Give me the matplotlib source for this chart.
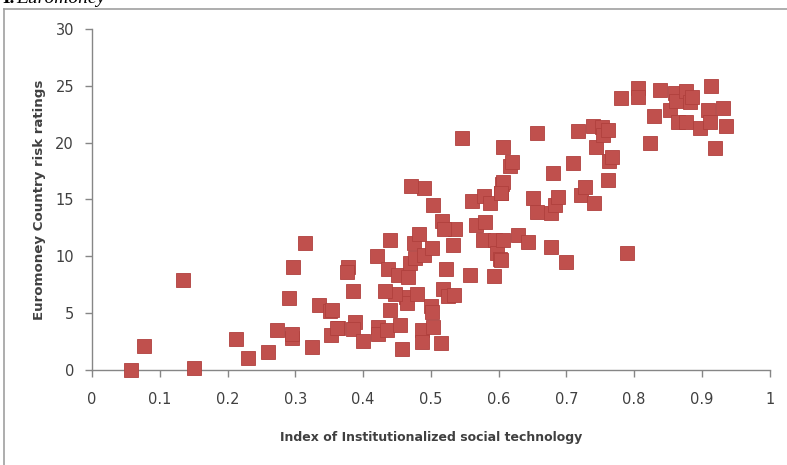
import matplotlib
matplotlib.use("Agg")
import matplotlib.pyplot as plt
from matplotlib.lines import Line2D

# Index of institutionalized social technology (x) vs Euromoney rating (y)
ist_index = [
    0.057, 0.077, 0.134, 0.151, 0.212, 0.230, 0.259, 0.273, 0.291, 0.297,
    0.295, 0.295, 0.314, 0.324, 0.335, 0.351, 0.353, 0.363, 0.354, 0.361,
    0.378, 0.376, 0.385, 0.388, 0.385, 0.400, 0.420, 0.422, 0.422, 0.435,
    0.437, 0.440, 0.440, 0.452, 0.454, 0.457, 0.466, 0.464, 0.465, 0.447,
    0.432, 0.469, 0.475, 0.477, 0.479, 0.483, 0.487, 0.487, 0.490, 0.490,
    0.470, 0.500, 0.501, 0.501, 0.503, 0.503, 0.515, 0.516, 0.518, 0.522,
    0.525, 0.534, 0.533, 0.536, 0.520, 0.546, 0.558, 0.561, 0.567, 0.577,
    0.578, 0.580, 0.587, 0.593, 0.594, 0.597, 0.602, 0.603, 0.605, 0.604,
    0.606, 0.606, 0.606, 0.604, 0.617, 0.619, 0.629, 0.643, 0.651, 0.656,
    0.656, 0.678, 0.678, 0.680, 0.683, 0.687, 0.700, 0.710, 0.717, 0.722,
    0.727, 0.739, 0.740, 0.743, 0.752, 0.754, 0.761, 0.761, 0.763, 0.767,
    0.780, 0.789, 0.805, 0.805, 0.823, 0.830, 0.838, 0.853, 0.861, 0.862,
    0.864, 0.877, 0.877, 0.882, 0.886, 0.897, 0.909, 0.912, 0.914, 0.919,
    0.931, 0.935,
]
euromoney = [
    0.0, 2.1, 7.9, 0.2, 2.7, 1.1, 1.6, 3.5, 6.3, 9.1,
    2.8, 3.2, 11.2, 2.0, 5.7, 5.2, 3.1, 3.7, 5.3, 3.7,
    9.1, 8.6, 7.0, 4.2, 3.6, 2.6, 10.0, 3.8, 3.2, 3.5,
    8.9, 11.4, 5.3, 8.4, 4.0, 1.9, 8.2, 6.4, 5.9, 6.7,
    7.0, 9.4, 11.2, 9.9, 6.7, 12.0, 3.5, 2.5, 10.1, 16.0,
    16.2, 5.6, 5.1, 10.7, 14.5, 3.8, 2.4, 13.1, 7.1, 8.9,
    6.5, 6.6, 11.0, 12.4, 12.4, 20.4, 8.4, 14.9, 12.8, 11.4,
    15.3, 13.0, 14.7, 8.3, 11.4, 10.3, 9.8, 15.6, 16.4, 9.7,
    11.4, 19.6, 16.5, 15.6, 17.9, 18.3, 11.9, 11.3, 15.1, 20.8,
    13.9, 13.8, 10.8, 17.3, 14.5, 15.2, 9.5, 18.2, 21.0, 15.4,
    16.1, 21.5, 14.7, 19.6, 21.4, 20.7, 21.1, 16.7, 18.4, 18.7,
    23.9, 10.3, 24.8, 24.0, 20.0, 22.3, 24.6, 22.9, 24.4, 23.7,
    21.8, 24.5, 21.8, 23.6, 24.0, 21.3, 22.9, 21.8, 25.0, 19.5,
    23.0, 21.5,
]

x_ticks = [0, 0.1, 0.2, 0.3, 0.4, 0.5, 0.6, 0.7, 0.8, 0.9, 1]
x_tick_labels = ["0", "0.1", "0.2", "0.3", "0.4", "0.5", "0.6", "0.7", "0.8", "0.9", "1"]
y_ticks = [0, 5, 10, 15, 20, 25, 30]

axis_grey = "#868686"
text_grey = "#404040"

fig = plt.figure(figsize=(7.87, 4.65), dpi=100)
ax = fig.add_axes([0.117, 0.204, 0.861, 0.734])

ax.plot(ist_index, euromoney, linestyle="none", marker="s", markersize=9.5,
        markerfacecolor="#C0504D", markeredgecolor="#B0403D", markeredgewidth=0.6,
        clip_on=False, zorder=3)

ax.set_xlim(0, 1)
ax.set_ylim(0, 30)
ax.set_xticks(x_ticks)
ax.set_xticklabels(x_tick_labels)
ax.set_yticks(y_ticks)

for side in ["top", "right"]:
    ax.spines[side].set_visible(False)
for side in ["left", "bottom"]:
    ax.spines[side].set_color(axis_grey)
    ax.spines[side].set_linewidth(1.0)

ax.tick_params(axis="both", direction="out", length=5, width=1.0, color=axis_grey,
               labelcolor=text_grey, labelsize=10.5)
ax.tick_params(axis="x", pad=11)
ax.tick_params(axis="y", pad=8)

ax.set_xlabel("Index of Institutionalized social technology", fontsize=9,
              fontweight="bold", color=text_grey, labelpad=17)
ax.set_ylabel("Euromoney Country risk ratings", fontsize=9.6,
              fontweight="bold", color=text_grey, labelpad=7)

# outer chart frame (only top and left edges visible in the crop)
fig.add_artist(Line2D([0.005, 1.0], [0.981, 0.981], transform=fig.transFigure,
                      color="#A0A0A0", linewidth=1.2))
fig.add_artist(Line2D([0.005, 0.005], [0.0, 0.981], transform=fig.transFigure,
                      color="#A0A0A0", linewidth=1.2))

# heading above the chart, cut off at the top as in the source
fig.text(0.003, 1.004, "I.", fontsize=14, fontweight="bold", family="Liberation Serif",
         ha="left", va="center")
fig.text(0.02, 1.004, "Euromoney", fontsize=14, fontstyle="italic",
         family="Liberation Serif", ha="left", va="center")

fig.savefig("out.png", dpi=100)
